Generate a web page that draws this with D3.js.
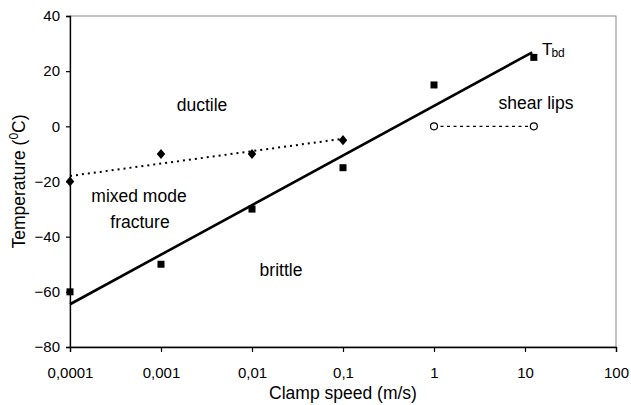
<!DOCTYPE html>
<html>
<head>
<meta charset="utf-8">
<script src="https://cdn.jsdelivr.net/npm/d3@7"></script>
<style>
	body { margin: 0; background: #fff; }
	text { font-family: "Liberation Sans", Arial, sans-serif; fill: #000; }
</style>
</head>
<body>
<svg></svg>
<script>
// clamp speed (m/s) and temperature (C)
const mixedSpeed = [0.0001, 0.001, 0.01, 0.1];
const mixedTemp = [-20, -10, -10, -5];
const brittleSpeed = [0.0001, 0.001, 0.01, 0.1, 1, 12.5];
const brittleTemp = [-60, -50, -30, -15, 15, 25];
const shearSpeed = [1, 12.5];
const shearTemp = [0, 0];
// trend lines
const mixedTrend = [[0.0001, -18], [0.1, -4.5]];
const brittleTrend = [[0.0001, -64.5], [12, 26.8]];
const xTicks = [0.0001, 0.001, 0.01, 0.1, 1, 10, 100];
const yTicks = [-80, -60, -40, -20, 0, 20, 40];

const width = 631;
const height = 405;
const margin = {top: 16, right: 15, bottom: 58, left: 70};

const svg = d3.select('svg')
	.attr('width', width)
	.attr('height', height);

const x = d3.scaleLog()
	.domain([0.0001, 100])
	.range([margin.left, width - margin.right]);
const y = d3.scaleLinear()
	.domain([-80, 40])
	.range([height - margin.bottom, margin.top]);

// plot frame (grey top and right)
svg.append('rect')
	.attr('x', x(0.0001))
	.attr('y', y(40))
	.attr('width', x(100) - x(0.0001))
	.attr('height', y(-80) - y(40))
	.attr('fill', 'none')
	.attr('stroke', '#888')
	.attr('stroke-width', 1);

const fmt = d => String(d).replace('.', ',');

const xAxis = svg.append('g')
	.attr('transform', `translate(0,${y(-80)})`)
	.call(d3.axisBottom(x).tickValues(xTicks).tickFormat(fmt).tickSize(5).tickPadding(15));
const yAxis = svg.append('g')
	.attr('transform', `translate(${x(0.0001)},0)`)
	.call(d3.axisLeft(y).tickValues(yTicks).tickSize(4).tickPadding(6));

[xAxis, yAxis].forEach(a => {
	a.select('.domain').attr('stroke', '#000').attr('stroke-width', 1.3);
	a.selectAll('.tick line').attr('stroke', '#000').attr('stroke-width', 1.2);
	a.selectAll('.tick text')
		.attr('font-size', 15)
		.attr('font-family', '"Liberation Sans", Arial, sans-serif')
		.attr('fill', '#000');
});
xAxis.selectAll('.tick text').attr('dy', '0.71em');

const line = d3.line()
	.x(d => x(d[0]))
	.y(d => y(d[1]));

// trend lines
svg.append('path')
	.datum(brittleTrend)
	.attr('d', line)
	.attr('fill', 'none')
	.attr('stroke', '#000')
	.attr('stroke-width', 2.6);

svg.append('path')
	.datum(mixedTrend)
	.attr('d', line)
	.attr('fill', 'none')
	.attr('stroke', '#000')
	.attr('stroke-width', 2)
	.attr('stroke-dasharray', '2,4');

svg.append('path')
	.datum(shearSpeed.map((s, i) => [s, shearTemp[i]]))
	.attr('d', line)
	.attr('fill', 'none')
	.attr('stroke', '#000')
	.attr('stroke-width', 1.2)
	.attr('stroke-dasharray', '3,3.5');

// markers
svg.append('g')
	.selectAll('path')
	.data(mixedSpeed.map((s, i) => [s, mixedTemp[i]]))
	.enter().append('path')
		.attr('d', d3.symbol(d3.symbolDiamond2, 64))
		.attr('transform', d => `translate(${x(d[0])},${y(d[1])}) scale(0.85,1)`)
		.attr('fill', '#000');

svg.append('g')
	.selectAll('rect')
	.data(brittleSpeed.map((s, i) => [s, brittleTemp[i]]))
	.enter().append('rect')
		.attr('x', d => x(d[0]) - 3.5)
		.attr('y', d => y(d[1]) - 3.5)
		.attr('width', 7)
		.attr('height', 7)
		.attr('fill', '#000');

svg.append('g')
	.selectAll('circle')
	.data(shearSpeed.map((s, i) => [s, shearTemp[i]]))
	.enter().append('circle')
		.attr('cx', d => x(d[0]))
		.attr('cy', d => y(d[1]))
		.attr('r', 3.5)
		.attr('fill', '#fff')
		.attr('stroke', '#000')
		.attr('stroke-width', 1.2);

// region labels
const labels = [
	{t: 'ductile', x: 202, y: 111},
	{t: 'mixed mode', x: 139, y: 202},
	{t: 'fracture', x: 140, y: 228},
	{t: 'brittle', x: 281, y: 276},
	{t: 'shear lips', x: 536, y: 109}
];
svg.append('g')
	.selectAll('text')
	.data(labels)
	.enter().append('text')
		.attr('x', d => d.x)
		.attr('y', d => d.y)
		.attr('text-anchor', 'middle')
		.attr('font-size', 17.5)
		.text(d => d.t);

const tbd = svg.append('text')
	.attr('x', 542)
	.attr('y', 55)
	.attr('font-size', 17);
tbd.append('tspan').text('T');
tbd.append('tspan').attr('font-size', 12).attr('dy', 2).attr('dx', -1).text('bd');

// axis titles
svg.append('text')
	.attr('x', (x.range()[0] + x.range()[1]) / 2)
	.attr('y', 399)
	.attr('text-anchor', 'middle')
	.attr('font-size', 17.5)
	.text('Clamp speed (m/s)');

const yt = svg.append('text')
	.attr('transform', `translate(25,${(y(40) + y(-80)) / 2}) rotate(-90)`)
	.attr('text-anchor', 'middle')
	.attr('font-size', 17.5);
yt.append('tspan').text('Temperature (');
yt.append('tspan').attr('font-size', 12).attr('dy', -7).text('0');
yt.append('tspan').attr('dy', 7).text('C)');
</script>
</body>
</html>
